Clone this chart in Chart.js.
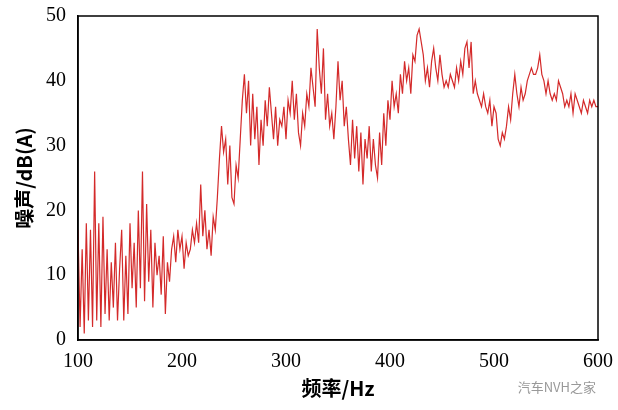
<!DOCTYPE html>
<html><head><meta charset="utf-8">
<script src="https://cdn.jsdelivr.net/npm/chart.js@4"></script>
<style>body{margin:0;background:#fff}#w{position:relative;width:618px;height:410px}
#wm{position:absolute;right:22px;bottom:14px;font:13px "Noto Sans CJK SC";color:#999}</style>
</head><body><div id="w"><canvas id="c" width="618" height="410"></canvas><div id="wm">汽车NVH之家</div></div>
<script>
const freqs=[];for(let f=100;f<=600;f+=2)freqs.push(f);
const noise=[17,2,14,1,18,3,17,2,26,3,18,2,19,4,14,3,12,5,15,3,11,17,3,13,4,18,8,15,5,20,8,26,6,21,9,17,5,15,10,13,7,16,4,12,9,14,16,12,17,14,
16,11,15,13,14,17,15,18,15,24,16,20,14,17,13,19,17,22,28,33,29,31,24,30,22,21,27,25,31,37,41,35,40,30,38,31,36,27,34,30,37,33,39,35,31,36,30,34,33,36,
31,37,35,40,34,38,32,30,35,33,38,36,42,39,36,48,42,38,45,34,38,33,35,31,36,43,37,40,33,36,31,27,34,28,33,26,32,24,31,28,33,26,31,27,25,32,27,35,30,37,
34,40,36,38,35,41,38,43,40,42,38,44,43,47,48,46,44,40,42,39,43,45,42,40,44,41,39,40,39,41,40,39,42,40,43,41,45,46,42,46,38,40,38,37,36,38,36,35,37,33,
36,35,31,30,32,31,33,36,34,38,41,38,36,39,37,38,40,41,42,41,41,42,44,41,40,38,40,38,37,38,37,40,39,38,36,37,36,38,35,38,37,36,35,37,36,35,37,36,37,36,36];
const xTicks=[100,200,300,400,500,600];
const yTicks=[0,10,20,30,40,50];
const tf={family:'"Liberation Serif","DejaVu Serif"',size:20};
new Chart(document.getElementById('c'),{type:'line',
data:{datasets:[{data:freqs.map((f,i)=>({x:f,y:noise[i]})),borderColor:'#d42a2a',borderWidth:1.2,pointRadius:0,tension:0}]},
options:{responsive:false,animation:false,plugins:{legend:{display:false},tooltip:{enabled:false}},
layout:{padding:{top:1,right:20,left:8,bottom:10}},
scales:{x:{type:'linear',min:100,max:600,afterBuildTicks:a=>{a.ticks=xTicks.map(v=>({value:v}))},
grid:{display:false},border:{color:'#000',width:1.5},
ticks:{color:'#000',font:tf,padding:2},
title:{display:true,text:'频率/Hz',color:'#000',font:{family:'"Noto Sans CJK SC"',size:20,weight:'bold'},padding:{top:0,bottom:0}}},
y:{min:0,max:50,afterBuildTicks:a=>{a.ticks=yTicks.map(v=>({value:v}))},
grid:{display:false},border:{color:'#000',width:1.5},
ticks:{color:'#000',font:tf,padding:4},
title:{display:true,text:'噪声/dB(A)',color:'#000',font:{family:'"Noto Sans CJK SC"',size:20,weight:'bold'},padding:{bottom:6}}}}},
plugins:[{id:'box',afterDraw(c){const a=c.chartArea,x=c.ctx;x.save();x.strokeStyle='#000';x.lineWidth=1.5;x.strokeRect(a.left,a.top,a.right-a.left,a.bottom-a.top);x.restore();}}]});
</script></body></html>
